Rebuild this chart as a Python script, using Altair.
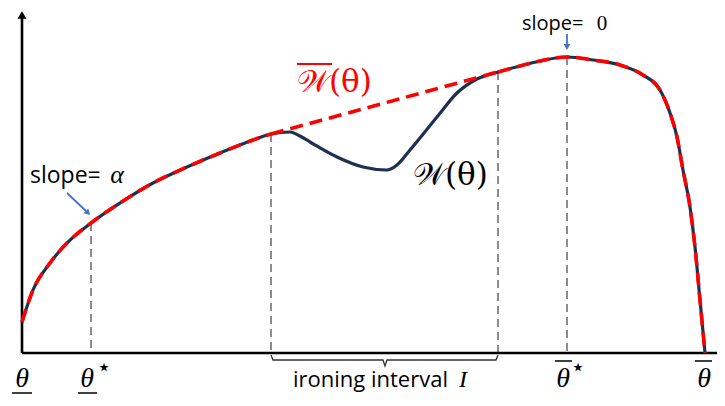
import altair as alt
import pandas as pd

# ---- data (x: theta units, y: W units, origin at the axes corner)
w_x = [0, 11, 28, 45, 69, 98, 131, 165, 198, 231, 249, 268, 278, 288, 315, 341, 365, 375,
       388, 415, 435, 455, 476, 498, 518, 545, 571, 598, 621, 638, 648, 655, 661, 668,
       673, 678, 683]
w_y = [31, 63, 90, 110, 130, 150, 170, 186, 200, 213, 219, 221, 217, 211, 196, 186, 183, 188,
       203, 236, 260, 274, 281, 287, 292, 296, 293, 288, 278, 263, 240, 216, 183, 146,
       106, 53, 0]
iron_lo, iron_hi = 249, 476          # ironing interval end points
theta_star, theta_bar_star = 69, 545  # theta*, theta-bar*
x_max, y_max = 695, 335

# vertical guide lines (x, height on the curve)
guide_x = [theta_star, iron_lo, iron_hi, theta_bar_star]
guide_y = [130, 219, 281, 296]

# axis tick labels
tick_x = [0, 65, 541, 682]
tick_t = ["θ", "θ", "θ", "θ"]
star_x = [82, 556]
under_x1, under_x2 = [-10, 56], [10, 75]
over_x1, over_x2 = [533, 673], [550, 690]

NAVY = "#1f3150"
RED = "#ff0000"
GRAY = "#8c8c8c"
BLUE = "#4472c4"

X = alt.X("x:Q", scale=alt.Scale(domain=[-14, 695], nice=False, zero=False), axis=None)
Y = alt.Y("y:Q", scale=alt.Scale(domain=[-43, 345], nice=False, zero=False), axis=None)

# W curve
w_df = pd.DataFrame({"x": w_x, "y": w_y})
w_line = alt.Chart(w_df).mark_line(color=NAVY, strokeWidth=3.2, interpolate="monotone").encode(x=X, y=Y)

# W-bar: left part, straight ironed part, right part
rows = []
for xv, yv in zip(w_x, w_y):
    if xv <= iron_lo:
        rows.append({"x": xv, "y": yv, "part": "a", "o": xv})
rows.append({"x": iron_lo, "y": w_y[w_x.index(iron_lo)], "part": "b", "o": iron_lo})
rows.append({"x": iron_hi, "y": w_y[w_x.index(iron_hi)], "part": "b", "o": iron_hi})
for xv, yv in zip(w_x, w_y):
    if xv >= iron_hi:
        rows.append({"x": xv, "y": yv, "part": "c", "o": xv})
wb_df = pd.DataFrame(rows)
wb_line = alt.Chart(wb_df).mark_line(color=RED, strokeWidth=3.6, strokeDash=[13, 7],
                                     interpolate="monotone").encode(
    x=X, y=Y, detail="part:N", order="o:Q")

# guides
g_df = pd.DataFrame({"x": guide_x, "y": guide_y, "y2": [0] * 4})
guides = alt.Chart(g_df).mark_rule(color=GRAY, strokeWidth=2, strokeDash=[8, 5]).encode(
    x=X, y=Y, y2="y2:Q")

# axes
ax_df = pd.DataFrame({"x": [0, 0], "y": [0, 0], "x2": [x_max, 0], "y2": [0, y_max]})
axes = alt.Chart(ax_df).mark_rule(color="black", strokeWidth=2.6).encode(
    x=X, y=Y, x2="x2:Q", y2="y2:Q")
arrow_head = alt.Chart(pd.DataFrame({"x": [0], "y": [338]})).mark_point(
    shape="triangle-up", filled=True, color="black", size=80, opacity=1).encode(x=X, y=Y)

# blue annotation arrows
ba_df = pd.DataFrame({"x": [45, 545], "y": [160, 319], "x2": [64, 545], "y2": [142, 308]})
blue_lines = alt.Chart(ba_df).mark_rule(color=BLUE, strokeWidth=1.8).encode(
    x=X, y=Y, x2="x2:Q", y2="y2:Q")
bh1 = alt.Chart(pd.DataFrame({"x": [66], "y": [140]})).mark_point(
    shape="triangle-up", filled=True, color=BLUE, size=45, angle=135, opacity=1).encode(x=X, y=Y)
bh2 = alt.Chart(pd.DataFrame({"x": [545], "y": [306]})).mark_point(
    shape="triangle-up", filled=True, color=BLUE, size=45, angle=180, opacity=1).encode(x=X, y=Y)

# bracket for the ironing interval
br_x = [iron_lo, iron_lo + 2, 361, 363, 365, iron_hi - 2, iron_hi]
br_y = [-2, -7, -7, -13, -7, -7, -2]
br_df = pd.DataFrame({"x": br_x, "y": br_y, "o": list(range(len(br_x)))})
bracket = alt.Chart(br_df).mark_line(color="#333333", strokeWidth=1.3).encode(x=X, y=Y, order="o:Q")


def txt(xs, ys, ts, **kw):
    df = pd.DataFrame({"x": xs, "y": ys, "t": ts})
    return alt.Chart(df).mark_text(**kw).encode(x=X, y=Y, text="t:N")


sans = dict(font="Open Sans", fontSize=23, color="black", align="left", baseline="alphabetic")
sans_small = dict(font="Open Sans", fontSize=20, color="black", align="left", baseline="alphabetic")
serif_it = dict(font="Liberation Serif", fontStyle="italic", color="black", baseline="alphabetic",
                align="center")

slope_txt = txt([8], [170], ["slope="], **sans)
slope0_txt = txt([500], [323], ["slope="], **sans_small)
alpha_txt = txt([95], [170], ["α"], fontSize=26, **serif_it)
zero_txt = alt.Chart(pd.DataFrame({"x": [580], "y": [323], "t": ["0"]})).mark_text(
    font="Liberation Serif", fontSize=21, color="black", align="center",
    baseline="alphabetic").encode(x=X, y=Y, text="t:N")

wbar_txt = alt.Chart(pd.DataFrame({"x": [275], "y": [261], "t": ["𝒲(θ)"]})).mark_text(
    font="DejaVu Serif", fontSize=31, color=RED, align="left", baseline="alphabetic").encode(
    x=X, y=Y, text="t:N")
w_txt = alt.Chart(pd.DataFrame({"x": [391], "y": [168], "t": ["𝒲(θ)"]})).mark_text(
    font="DejaVu Serif", fontSize=31, color="black", align="left", baseline="alphabetic").encode(
    x=X, y=Y, text="t:N")
wbar_over = alt.Chart(pd.DataFrame({"x": [275], "x2": [310], "y": [289]})).mark_rule(
    color=RED, strokeWidth=1.8).encode(x=X, x2="x2:Q", y=Y)

tick_txt = txt(tick_x, [-34] * 4, tick_t, fontSize=28, **serif_it)
star_txt = txt(star_x, [-15, -15], ["⋆", "⋆"], font="DejaVu Sans", fontSize=24, color="black",
               align="center", baseline="middle")
ul_df = pd.DataFrame({"x": under_x1 + over_x1, "x2": under_x2 + over_x2,
                      "y": [-40, -40, -8, -8]})
ul = alt.Chart(ul_df).mark_rule(color="black", strokeWidth=1.5).encode(x=X, x2="x2:Q", y=Y)

iron_txt = txt([271], [-34], ["ironing interval"], font="Open Sans", fontSize=22, color="black",
               align="left", baseline="alphabetic")
i_txt = txt([441], [-34], ["I"], fontSize=24, **serif_it)

chart = alt.layer(
    guides, axes, arrow_head, w_line, wb_line, blue_lines, bh1, bh2, bracket,
    slope_txt, slope0_txt, alpha_txt, zero_txt, wbar_txt, w_txt, wbar_over,
    tick_txt, star_txt, ul, iron_txt, i_txt
).properties(
    width=709, height=388, padding=0, autosize=alt.AutoSizeParams(type="none")
).configure_view(stroke=None)

chart.save("out.html", embed_options={"renderer": "svg", "actions": False})
